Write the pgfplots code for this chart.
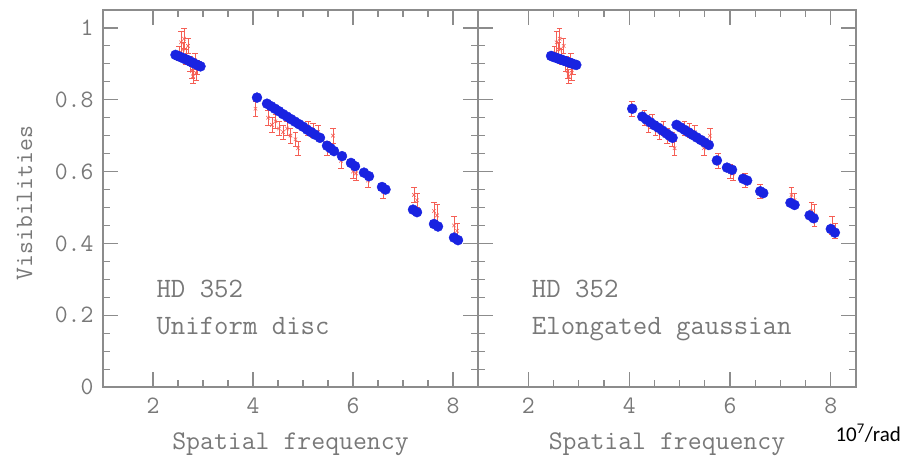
\documentclass[border=0pt]{standalone}
\usepackage{fontspec}
\usepackage{pgfplots}
\usepackage{pgfplotstable}
\pgfplotsset{compat=1.18}
\newfontfamily\calib{Carlito}
\definecolor{txt}{RGB}{120,120,120}
\definecolor{axc}{RGB}{140,140,140}
\definecolor{bl}{RGB}{25,35,225}
\definecolor{rd}{RGB}{245,95,85}
\newcommand\chfont[1]{\ttfamily\fontsize{#1}{#1}\selectfont\addfontfeature{FakeStretch=0.94}}

% observed visibilities (same data in both panels)
\pgfplotstableread{
x y e
2.52 0.930 0.020
2.56 0.960 0.030
2.60 0.940 0.020
2.62 0.970 0.028
2.66 0.920 0.020
2.70 0.950 0.020
2.74 0.900 0.020
2.78 0.880 0.020
2.80 0.865 0.020
2.84 0.910 0.020
2.86 0.875 0.020
2.88 0.890 0.020
4.05 0.775 0.020
4.30 0.750 0.020
4.38 0.730 0.020
4.45 0.740 0.020
4.52 0.720 0.020
4.60 0.710 0.020
4.68 0.720 0.020
4.75 0.700 0.020
4.85 0.690 0.020
4.90 0.665 0.020
5.10 0.720 0.020
5.20 0.715 0.020
5.30 0.710 0.020
5.48 0.665 0.020
5.60 0.700 0.020
5.76 0.630 0.020
6.00 0.600 0.020
6.06 0.595 0.020
6.30 0.575 0.020
6.60 0.545 0.020
7.22 0.535 0.020
7.28 0.520 0.020
7.62 0.490 0.025
7.68 0.478 0.030
8.02 0.450 0.025
8.08 0.435 0.022
}\reddata

% uniform disc model
\pgfplotstableread{
x y
2.45 0.925
2.50 0.922
2.55 0.919
2.60 0.916
2.65 0.913
2.70 0.910
2.75 0.906
2.80 0.903
2.85 0.899
2.90 0.896
2.95 0.893
4.08 0.806
4.28 0.789
4.36 0.782
4.44 0.775
4.52 0.768
4.60 0.760
4.68 0.753
4.76 0.746
4.84 0.739
4.92 0.732
5.00 0.725
5.08 0.717
5.16 0.710
5.24 0.703
5.34 0.694
5.48 0.672
5.55 0.665
5.62 0.657
5.78 0.643
5.96 0.624
6.04 0.615
6.22 0.597
6.32 0.587
6.58 0.557
6.65 0.550
7.20 0.494
7.28 0.487
7.62 0.454
7.70 0.447
8.02 0.416
8.10 0.409
}\udisc

% elongated gaussian model
\pgfplotstableread{
x y
2.45 0.922
2.50 0.919
2.55 0.917
2.60 0.914
2.65 0.912
2.70 0.909
2.75 0.907
2.80 0.904
2.85 0.902
2.90 0.899
2.95 0.897
4.06 0.775
4.26 0.753
4.34 0.745
4.42 0.737
4.50 0.729
4.58 0.722
4.66 0.714
4.74 0.706
4.80 0.700
4.86 0.694
4.94 0.730
5.02 0.723
5.10 0.716
5.18 0.709
5.26 0.702
5.34 0.695
5.42 0.688
5.50 0.681
5.58 0.674
5.74 0.631
5.94 0.611
6.04 0.605
6.26 0.580
6.34 0.575
6.60 0.545
6.66 0.540
7.20 0.513
7.28 0.507
7.58 0.478
7.66 0.470
8.00 0.440
8.08 0.430
}\egauss

\pgfplotsset{
  vis/.style={
    scale only axis, height=377pt,
    xmin=1, xmax=8.5, ymin=0, ymax=1.05,
    xtick={2,4,6,8}, ytick={0,0.2,0.4,0.6,0.8,1},
    minor x tick num=3, minor y tick num=3,
    tick align=inside, major tick length=15pt, minor tick length=7pt,
    axis line style={axc, line width=1.3pt},
    every tick/.style={axc, line width=1.1pt},
    tick label style={txt, font=\chfont{25}},
    xticklabel shift=7pt, yticklabel shift=6pt,
    /pgf/number format/assume math mode=true,
    /pgf/number format/fixed,
    xlabel={Spatial frequency},
    xlabel style={txt, font=\chfont{27}, at={(axis description cs:0.5,-0.167)}, anchor=base},
    clip=false,
  },
  redpts/.style={only marks, mark=x, mark size=2.5pt, rd, line width=0.6pt,
    error bars/.cd, y dir=both, y explicit,
    error bar style={rd, line width=0.6pt},
    error mark options={rd, rotate=90, mark size=2.8pt, line width=0.6pt}},
  bluepts/.style={only marks, mark=*, mark size=5pt, mark options={fill=bl, draw=bl}},
}

\begin{document}
\begin{tikzpicture}
\useasboundingbox (-103pt,-71pt) rectangle (798pt,387pt);
\begin{axis}[vis, name=L, width=375pt, at={(0,0)}, anchor=south west,
  ylabel={Visibilities},
  ylabel style={txt, font=\chfont{25}, at={(axis description cs:-0.189,0.488)}, anchor=base}]
  \addplot[redpts] table[x=x, y=y, y error=e] {\reddata};
  \addplot[bluepts] table[x=x, y=y] {\udisc};
  \node[anchor=base west, txt, font=\chfont{28}] at (axis cs:2.0,0.25) {HD 352};
  \node[anchor=base west, txt, font=\chfont{28}] at (axis cs:2.0,0.147) {Uniform disc};
\end{axis}
\begin{axis}[vis, name=R, width=378pt, at={(L.south east)}, anchor=south west,
  yticklabels={}]
  \addplot[redpts] table[x=x, y=y, y error=e] {\reddata};
  \addplot[bluepts] table[x=x, y=y] {\egauss};
  \node[anchor=base west, txt, font=\chfont{28}] at (axis cs:2.0,0.25) {HD 352};
  \node[anchor=base west, txt, font=\chfont{28}] at (axis cs:2.0,0.147) {Elongated gaussian};
\end{axis}
\node[anchor=base west, font=\calib\fontsize{21}{21}\selectfont] at (729pt,-54pt) {10\textsuperscript{7}/rad};
\end{tikzpicture}
\end{document}
